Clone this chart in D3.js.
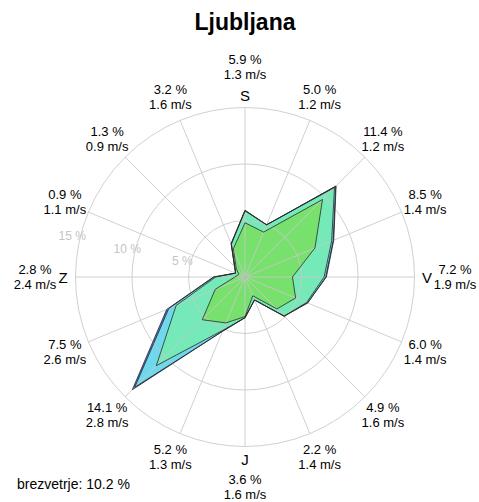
<!DOCTYPE html>
<html>
<head>
<meta charset="utf-8">
<script src="https://cdn.jsdelivr.net/npm/d3@7"></script>
<style>
  body { margin: 0; background: #fff; }
  text { font-family: "Liberation Sans", Arial, sans-serif; }
</style>
</head>
<body>
<svg id="chart"></svg>
<script>
// 16 directions, clockwise from north
const directions = ['N', 'NNE', 'NE', 'ENE', 'E', 'ESE', 'SE', 'SSE', 'S', 'SSW', 'SW', 'WSW', 'W', 'WNW', 'NW', 'NNW'];
const cardinalIndex = [0, 4, 8, 12];
const cardinalNames = ['S', 'V', 'J', 'Z'];

// frequency (%) and mean speed (m/s) per direction
const totalPct = [5.9, 5.0, 11.4, 8.5, 7.2, 6.0, 4.9, 2.2, 3.6, 5.2, 14.1, 7.5, 2.8, 0.9, 1.3, 3.2];
const meanSpeed = [1.3, 1.2, 1.2, 1.4, 1.9, 1.4, 1.6, 1.4, 1.6, 1.3, 2.8, 2.6, 2.4, 1.1, 0.9, 1.6];

// share of each speed class (%), slowest first
const class1 = [4.8, 4.3, 9.7, 6.7, 4.2, 4.85, 4.0, 1.8, 3.5, 4.4, 5.35, 2.85, 0.9, 0.6, 1.1, 2.7];
const class2 = [1.05, 0.7, 1.5, 1.6, 2.8, 1.05, 0.9, 0.4, 0.1, 0.7, 5.75, 3.75, 1.7, 0.3, 0.2, 0.45];
const class3 = [0.05, 0, 0.15, 0.15, 0.15, 0.1, 0, 0, 0, 0.1, 2.7, 0.7, 0.15, 0, 0, 0.05];
const class4 = [0, 0, 0.05, 0.05, 0.05, 0, 0, 0, 0, 0, 0.3, 0.2, 0.05, 0, 0, 0];
const classColors = ['#78e16e', '#76e9b8', '#6fd8ea', '#4f6fd0'];

const gridTicks = [5, 10, 15];
const calmPct = 10.2;
const title = 'Ljubljana';

class WindRose {
  constructor(_config) {
    this.config = {
      parentElement: _config.parentElement,
      containerWidth: 479,
      containerHeight: 502,
      cx: 245,
      cy: 277,
      radius: 169.5
    };
    this.initVis();
  }

  initVis() {
    let vis = this;

    vis.svg = d3.select(vis.config.parentElement)
        .attr('width', vis.config.containerWidth)
        .attr('height', vis.config.containerHeight);

    vis.rScale = d3.scaleLinear()
        .domain([0, d3.max(gridTicks)])
        .range([0, vis.config.radius]);

    vis.angle = i => i * 2 * Math.PI / directions.length;

    vis.chart = vis.svg.append('g')
        .attr('transform', `translate(${vis.config.cx},${vis.config.cy})`);

    vis.svg.append('text')
        .attr('x', vis.config.cx)
        .attr('y', 30)
        .attr('text-anchor', 'middle')
        .style('font-size', '23px')
        .style('font-weight', 'bold')
        .text(title);

    vis.svg.append('text')
        .attr('x', 17)
        .attr('y', 489)
        .style('font-size', '14px')
        .text(`brezvetrje: ${calmPct.toFixed(1)} %`);

    vis.updateVis();
  }

  updateVis() {
    let vis = this;

    // cumulative radii per speed class
    let layers = [class1, class2, class3, class4];
    let cum = [];
    layers.forEach((arr, k) => {
      cum.push(arr.map((v, i) => (k > 0 ? cum[k - 1][i] : 0) + v));
    });

    let radial = d3.lineRadial()
        .angle((d, i) => vis.angle(i))
        .radius(d => vis.rScale(d))
        .curve(d3.curveLinearClosed);

    // largest first so smaller classes sit on top
    let order = d3.range(cum.length).reverse();
    vis.chart.selectAll('path.fill')
      .data(order)
      .join('path')
        .attr('class', 'fill')
        .attr('d', k => radial(cum[k]))
        .attr('fill', k => classColors[k]);

    // grid circles and spokes
    vis.chart.selectAll('circle.grid')
      .data(gridTicks)
      .join('circle')
        .attr('class', 'grid')
        .attr('r', d => vis.rScale(d))
        .attr('fill', 'none')
        .attr('stroke', '#c8c8c8')
        .attr('stroke-opacity', 0.85)
        .attr('stroke-width', 1);

    vis.chart.selectAll('line.spoke')
      .data(directions)
      .join('line')
        .attr('class', 'spoke')
        .attr('x1', 0).attr('y1', 0)
        .attr('x2', (d, i) => vis.config.radius * Math.sin(vis.angle(i)))
        .attr('y2', (d, i) => -vis.config.radius * Math.cos(vis.angle(i)))
        .attr('stroke', '#c8c8c8')
        .attr('stroke-opacity', 0.85)
        .attr('stroke-width', 1);

    vis.chart.selectAll('path.outline')
      .data(order)
      .join('path')
        .attr('class', 'outline')
        .attr('d', k => radial(cum[k]))
        .attr('fill', 'none')
        .attr('stroke', '#2a2a2a')
        .attr('stroke-width', 0.8);

    vis.chart.append('circle')
        .attr('r', 2.5)
        .attr('fill', '#bbbbbb');

    // grid value labels
    let labelAngle = -76.8 * Math.PI / 180;
    vis.chart.selectAll('text.tick')
      .data(gridTicks)
      .join('text')
        .attr('class', 'tick')
        .attr('x', d => (vis.rScale(d) + 8) * Math.sin(labelAngle))
        .attr('y', d => -(vis.rScale(d) + 8) * Math.cos(labelAngle))
        .attr('text-anchor', 'middle')
        .attr('dominant-baseline', 'middle')
        .style('font-size', '12px')
        .style('fill', '#c4c4c4')
        .text(d => `${d} %`);

    // cardinal letters
    vis.chart.selectAll('text.cardinal')
      .data(cardinalIndex)
      .join('text')
        .attr('class', 'cardinal')
        .attr('x', (d, j) => 182 * Math.sin(vis.angle(d)))
        .attr('y', (d, j) => -182 * Math.cos(vis.angle(d)))
        .attr('text-anchor', 'middle')
        .attr('dominant-baseline', 'central')
        .style('font-size', '15px')
        .text((d, j) => cardinalNames[j]);

    // frequency / speed labels
    let labels = vis.chart.selectAll('g.dirlabel')
      .data(directions)
      .join('g')
        .attr('class', 'dirlabel')
        .attr('transform', (d, i) => {
          let r = i % 4 === 0 ? 210 : 195;
          return `translate(${r * Math.sin(vis.angle(i))},${-r * Math.cos(vis.angle(i))})`;
        });

    labels.append('text')
        .attr('y', -7.5)
        .attr('text-anchor', 'middle')
        .attr('dominant-baseline', 'central')
        .style('font-size', '13px')
        .text((d, i) => `${totalPct[i].toFixed(1)} %`);

    labels.append('text')
        .attr('y', 7.5)
        .attr('text-anchor', 'middle')
        .attr('dominant-baseline', 'central')
        .style('font-size', '13px')
        .text((d, i) => `${meanSpeed[i].toFixed(1)} m/s`);
  }
}

new WindRose({ parentElement: '#chart' });
</script>
</body>
</html>
